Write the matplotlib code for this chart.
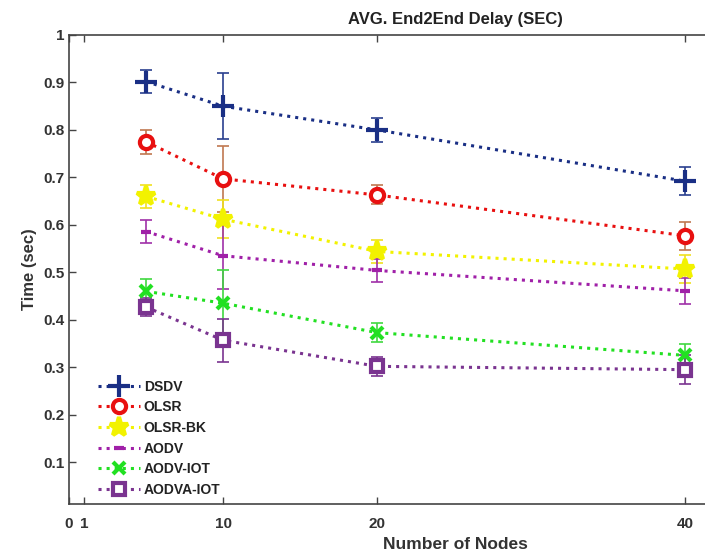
import matplotlib
matplotlib.use("Agg")
import matplotlib.pyplot as plt

plt.rcParams['font.family'] = ['Liberation Sans', 'DejaVu Sans']

nodes = [5, 10, 20, 40]

dsdv = [0.902, 0.850, 0.800, 0.692]
olsr = [0.775, 0.697, 0.663, 0.577]
olsr_bk = [0.660, 0.612, 0.544, 0.507]
aodv = [0.586, 0.535, 0.504, 0.461]
aodv_iot = [0.460, 0.435, 0.373, 0.325]
aodva_iot = [0.427, 0.357, 0.302, 0.295]

dsdv_err = [0.025, 0.07, 0.025, 0.03]
olsr_err = [0.025, 0.07, 0.02, 0.03]
olsr_bk_err = [0.025, 0.04, 0.025, 0.03]
aodv_err = [0.025, 0.07, 0.025, 0.027]
aodv_iot_err = [0.025, 0.07, 0.02, 0.025]
aodva_iot_err = [0.02, 0.045, 0.02, 0.03]

x_ticks = [0, 1, 10, 20, 40]
y_ticks = [0.1, 0.2, 0.3, 0.4, 0.5, 0.6, 0.7, 0.8, 0.9, 1]

# name, values, errors, line colour, errorbar colour, marker, size, filled
series = [
    ("DSDV", dsdv, dsdv_err, "#1a2f85", "#2a3f8f", "+", 16, True),
    ("OLSR", olsr, olsr_err, "#e81010", "#c07850", "o", 9.5, False),
    ("OLSR-BK", olsr_bk, olsr_bk_err, "#f2f200", "#f0e020", "*", 14, True),
    ("AODV", aodv, aodv_err, "#a020a8", "#a030a8", "_", 7, True),
    ("AODV-IOT", aodv_iot, aodv_iot_err, "#22e022", "#40d840", "x", 9, True),
    ("AODVA-IOT", aodva_iot, aodva_iot_err, "#7a3490", "#7a3490", "s", 9, False),
]

fig = plt.figure(figsize=(7.05, 5.59), dpi=100)
# original axes box is wider than the picture, right side is cut off
ax = fig.add_axes([69 / 705, 55 / 559, (841 - 69) / 705, (504 - 35) / 559])

for name, vals, errs, col, ecol, mk, ms, filled in series:
    ax.errorbar(nodes, vals, yerr=errs, fmt='none', ecolor=ecol,
                elinewidth=1.2, capsize=4.5, capthick=1.2, zorder=2)
    ax.plot(nodes, vals, linestyle=':', color=col, linewidth=2.2,
            marker=mk, markersize=ms, markeredgewidth=3,
            markerfacecolor=col if filled else 'white',
            markeredgecolor=col, label=name, zorder=3)

ax.set_xlim(0, 50.1)
ax.set_ylim(0.012, 1)
ax.set_xticks(x_ticks)
ax.set_yticks(y_ticks)
ax.set_yticklabels([f"{v:g}" for v in y_ticks])
ax.tick_params(direction='in', length=5, width=1, colors='#444444',
               labelsize=11, top=True, labelcolor='#333333')
ax.tick_params(axis='x', pad=9)
for lab in ax.get_xticklabels() + ax.get_yticklabels():
    lab.set_fontweight('bold')
for sp in ax.spines.values():
    sp.set_color('#444444')
    sp.set_linewidth(1.2)

ax.set_title("AVG. End2End Delay (SEC)", fontsize=12, fontweight='bold',
             color='#222222', pad=8)
ax.set_xlabel("Number of Nodes", fontsize=12.5, fontweight='bold',
              color='#333333', labelpad=5)
ax.set_ylabel("Time (sec)", fontsize=12, fontweight='bold', color='#333333')

leg = ax.legend(loc='lower left', bbox_to_anchor=(98 / 705, 62 / 559),
                bbox_transform=fig.transFigure, frameon=False, fontsize=10,
                handlelength=3.0, handletextpad=0.3, labelspacing=0.48,
                borderpad=0, borderaxespad=0)
for t in leg.get_texts():
    t.set_fontweight('bold')
    t.set_color('#222222')

fig.savefig("out.png", dpi=100)
